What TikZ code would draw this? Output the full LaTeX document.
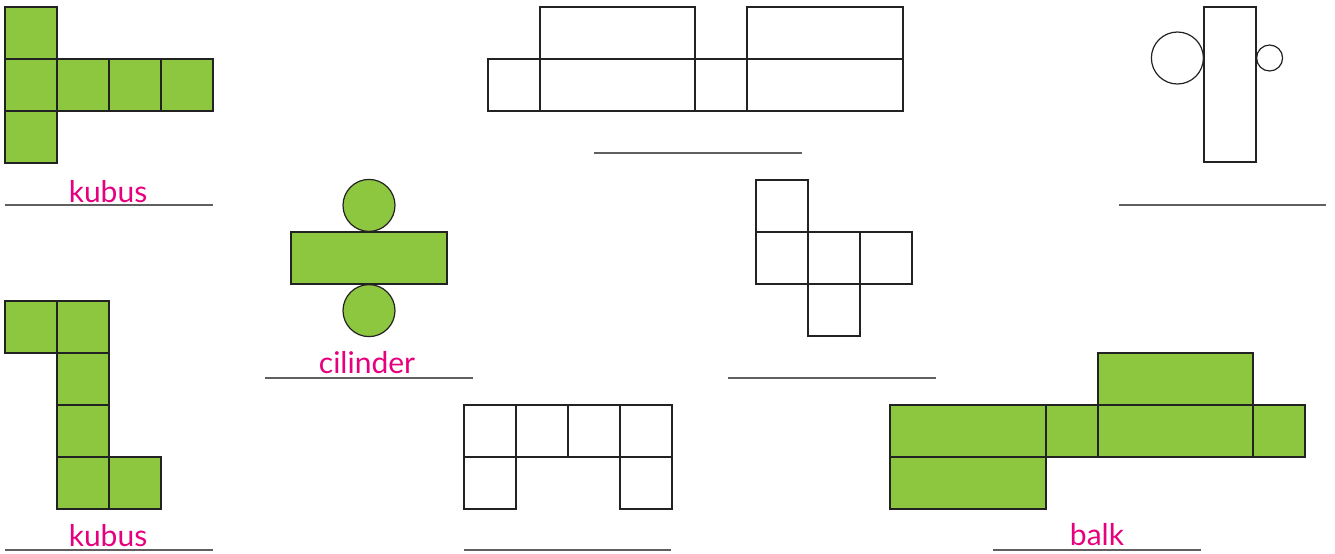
\documentclass[tikz,border=0pt]{standalone}
\usepackage{fontspec}
\setmainfont{Lato}
\usepackage{tikz}
\definecolor{netgreen}{HTML}{8DC63F}
\definecolor{netpink}{HTML}{E6007E}
\definecolor{netline}{HTML}{222222}
\definecolor{ruleline}{HTML}{606060}

\begin{document}
\begin{tikzpicture}[x=0.5pt, y=-0.5pt,
    face/.style={draw=netline, line width=0.6pt, inner sep=0pt, outer sep=0pt, anchor=north west},
    greenface/.style={face, fill=netgreen},
    plainface/.style={face, fill=white},
    disc/.style={circle, draw=netline, line width=0.6pt, inner sep=0pt},
    answer/.style={text=netpink, font=\fontsize{15pt}{18pt}\selectfont, anchor=base, inner sep=0pt},
    writeline/.style={draw=ruleline, line width=0.6pt}]

    \useasboundingbox (0,0) rectangle (1335,553);

    % Cube net top left (green)
    \foreach \x/\y [count=\i] in {5/7, 5/59, 57/59, 109/59, 161/59, 5/111} {
        \node(kubusA-\i)[greenface, minimum width=26pt, minimum height=26pt] at (\x,\y) {};
    }
    \draw[writeline] (5,205) -- (213,205);
    \node(labelA)[answer] at (108,202) {kubus};

    % Cylinder net (green)
    \node(mantel)[greenface, minimum width=78pt, minimum height=26pt] at (291,232) {};
    \node(lidTop)[disc, fill=netgreen, minimum size=26pt, anchor=south] at (mantel.north) {};
    \node(lidBottom)[disc, fill=netgreen, minimum size=26pt, anchor=north] at (mantel.south) {};
    \draw[writeline] (265,378) -- (473,378);
    \node(labelB)[answer] at (367,373) {cilinder};

    % Cube net bottom left (green)
    \foreach \x/\y [count=\i] in {5/301, 57/301, 57/353, 57/405, 57/457, 109/457} {
        \node(kubusB-\i)[greenface, minimum width=26pt, minimum height=26pt] at (\x,\y) {};
    }
    \draw[writeline] (5,550) -- (213,550);
    \node(labelC)[answer] at (108,546) {kubus};

    % Box net top middle (blank)
    \foreach \x/\y/\w [count=\i] in {540/7/155, 747/7/156, 488/59/52, 540/59/155, 695/59/52, 747/59/156} {
        \node(balkA-\i)[plainface, minimum width=\w*0.5pt, minimum height=26pt] at (\x,\y) {};
    }
    \draw[writeline] (594,153) -- (802,153);

    % Cylinder net top right (blank)
    \node(mantelB)[plainface, minimum width=26pt, minimum height=77.5pt] at (1204,7) {};
    \node(lidBig)[disc, minimum size=26pt, anchor=east] at ([yshift=-25.5pt]mantelB.north west) {};
    \node(lidSmall)[disc, minimum size=13pt, anchor=west] at ([yshift=-25.5pt]mantelB.north east) {};
    \draw[writeline] (1119,205) -- (1326,205);

    % Cube net middle (blank)
    \foreach \x/\y [count=\i] in {756/180, 756/232, 808/232, 860/232, 808/284} {
        \node(kubusC-\i)[plainface, minimum width=26pt, minimum height=26pt] at (\x,\y) {};
    }
    \draw[writeline] (728,378) -- (936,378);

    % Cube net bottom middle (blank)
    \foreach \x/\y [count=\i] in {464/405, 516/405, 568/405, 620/405, 464/457, 620/457} {
        \node(kubusD-\i)[plainface, minimum width=26pt, minimum height=26pt] at (\x,\y) {};
    }
    \draw[writeline] (464,550) -- (671,550);

    % Box net bottom right (green)
    \foreach \x/\y/\w [count=\i] in {1098/353/155, 890/405/156, 1046/405/52, 1098/405/155, 1253/405/52, 890/457/156} {
        \node(balkB-\i)[greenface, minimum width=\w*0.5pt, minimum height=26pt] at (\x,\y) {};
    }
    \draw[writeline] (993,550) -- (1201,550);
    \node(labelD)[answer] at (1097,545) {balk};

\end{tikzpicture}
\end{document}
